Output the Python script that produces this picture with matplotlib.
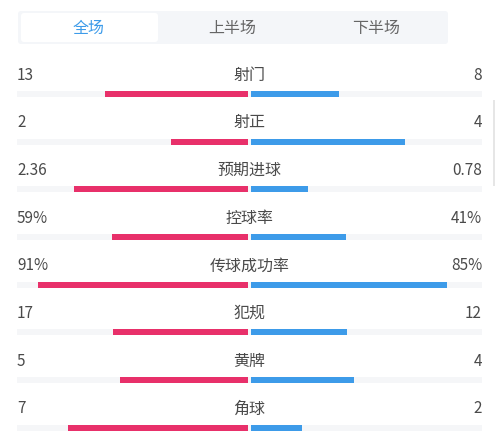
import matplotlib.pyplot as plt
from matplotlib.patches import FancyBboxPatch, Rectangle

plt.rcParams['font.family'] = ['Noto Sans CJK SC', 'DejaVu Sans']

tabs = ['全场', '上半场', '下半场']
labels = ['射门', '射正', '预期进球', '控球率', '传球成功率', '犯规', '黄牌', '角球']
home = [13, 2, 2.36, 59, 91, 17, 5, 7]
away = [8, 4, 0.78, 41, 85, 12, 4, 2]
home_txt = ['13', '2', '2.36', '59%', '91%', '17', '5', '7']
away_txt = ['8', '4', '0.78', '41%', '85%', '12', '4', '2']
is_pct = [False, False, False, True, True, False, False, False]

PINK = '#e8306a'
BLUE = '#3d9be9'
TEXT = '#4a4a4a'

fig = plt.figure(figsize=(5, 4.4), dpi=100)
ax = fig.add_axes([0, 0, 1, 1])
ax.set_xlim(0, 500)
ax.set_ylim(440, 0)
ax.axis('off')

# tab bar
ax.add_patch(FancyBboxPatch((18, 11), 430, 33, boxstyle='round,pad=0,rounding_size=3',
                            fc='#f4f6f9', ec='none'))
ax.add_patch(FancyBboxPatch((21, 13), 137, 29, boxstyle='round,pad=0,rounding_size=3',
                            fc='white', ec='none'))
for i, t in enumerate(tabs):
    ax.text(89 + i * 143.5, 28.5, t, ha='center', va='center', fontsize=11.5,
            color=BLUE if i == 0 else '#666666')

# scrollbar
ax.add_patch(Rectangle((493, 100), 2, 86, fc='#e6e6e6', ec='none'))

left, right, mid = 17, 482, 249.5
half = 231
for i, lab in enumerate(labels):
    yt = 75 + i * 47.7
    yb = yt + 19
    ax.text(left, yt, home_txt[i], ha='left', va='center', fontsize=11, color=TEXT)
    ax.text(right, yt, away_txt[i], ha='right', va='center', fontsize=11, color=TEXT)
    ax.text(mid, yt, lab, ha='center', va='center', fontsize=11.5, color=TEXT)
    if is_pct[i]:
        fl, fr = home[i] / 100, away[i] / 100
    else:
        tot = home[i] + away[i]
        fl, fr = home[i] / tot, away[i] / tot
    ax.add_patch(Rectangle((left, yb - 3), right - left, 6, fc='#f5f6f8', ec='none'))
    ax.barh(yb, -fl * half, left=mid - 1.5, height=6, color=PINK)
    ax.barh(yb, fr * half, left=mid + 1.5, height=6, color=BLUE)

fig.savefig('out.png', dpi=100)
